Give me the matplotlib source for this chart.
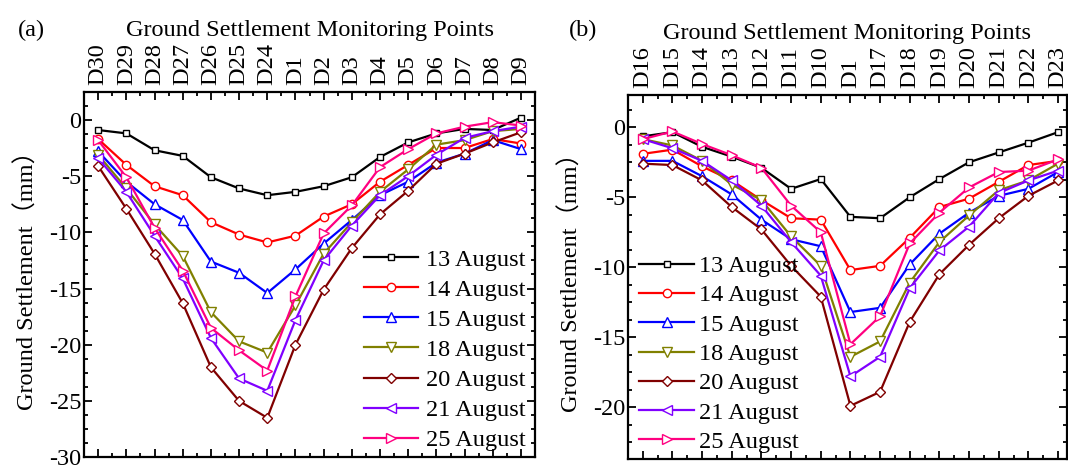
import matplotlib
matplotlib.use('Agg')
import matplotlib.pyplot as plt
from matplotlib.ticker import MultipleLocator, AutoMinorLocator

plt.rcParams['font.family'] = ['Liberation Serif', 'Noto Sans CJK SC', 'DejaVu Sans']

# legend names, one per survey date
dates = ['13 August', '14 August', '15 August', '18 August',
         '20 August', '21 August', '25 August']

# panel (a) monitoring points and settlements (mm)
points_a = ['D30', 'D29', 'D28', 'D27', 'D26', 'D25', 'D24', 'D1',
            'D2', 'D3', 'D4', 'D5', 'D6', 'D7', 'D8', 'D9']
aug13_a = [-0.9, -1.2, -2.7, -3.2, -5.1, -6.1, -6.7, -6.4, -5.9, -5.1, -3.3, -2.0, -1.2, -0.8, -0.9, 0.2]
aug14_a = [-1.7, -4.0, -5.9, -6.7, -9.1, -10.2, -10.9, -10.3, -8.6, -7.5, -5.5, -4.0, -2.5, -2.5, -1.7, -2.1]
aug15_a = [-2.8, -5.5, -7.5, -8.9, -12.6, -13.6, -15.4, -13.3, -11.0, -8.9, -6.7, -5.5, -3.8, -3.0, -1.8, -2.6]
aug18_a = [-3.1, -6.1, -9.3, -12.1, -17.1, -19.7, -20.7, -16.5, -11.9, -9.1, -6.4, -4.4, -2.2, -1.8, -1.0, -0.8]
aug20_a = [-4.1, -7.9, -11.9, -16.3, -22.0, -25.0, -26.5, -20.0, -15.1, -11.4, -8.4, -6.3, -3.9, -3.0, -2.0, -1.1]
aug21_a = [-3.4, -6.4, -10.3, -14.1, -19.4, -23.0, -24.1, -17.8, -12.5, -9.4, -6.7, -5.0, -3.1, -1.6, -1.0, -0.6]
aug25_a = [-1.8, -5.1, -9.6, -13.4, -18.5, -20.5, -22.3, -15.7, -10.1, -7.6, -4.2, -2.6, -1.2, -0.6, -0.2, -0.5]

# panel (b)
points_b = ['D16', 'D15', 'D14', 'D13', 'D12', 'D11', 'D10', 'D1',
            'D17', 'D18', 'D19', 'D20', 'D21', 'D22', 'D23']
aug13_b = [-0.65, -0.35, -1.4, -2.1, -2.9, -4.4, -3.7, -6.4, -6.5, -5.0, -3.7, -2.5, -1.8, -1.1, -0.35]
aug14_b = [-1.9, -1.6, -2.8, -3.8, -5.2, -6.5, -6.6, -10.2, -9.9, -7.9, -5.7, -5.1, -3.9, -2.7, -2.4]
aug15_b = [-2.4, -2.4, -3.5, -4.8, -6.6, -8.0, -8.5, -13.2, -12.9, -9.8, -7.6, -6.1, -4.9, -4.4, -3.2]
aug18_b = [-0.85, -1.3, -2.4, -4.1, -5.2, -7.8, -9.9, -16.4, -15.3, -11.1, -8.2, -6.3, -4.5, -3.8, -2.6]
aug20_b = [-2.6, -2.7, -3.8, -5.7, -7.3, -9.9, -12.1, -19.9, -18.9, -13.9, -10.5, -8.4, -6.5, -4.9, -3.8]
aug21_b = [-0.85, -1.5, -2.4, -3.8, -5.6, -8.2, -10.6, -17.8, -16.4, -11.5, -8.8, -7.1, -4.7, -3.8, -3.1]
aug25_b = [-0.85, -0.3, -1.2, -2.0, -2.9, -5.6, -7.5, -15.5, -13.5, -8.3, -6.1, -4.3, -3.2, -3.1, -2.3]

series_a = [aug13_a, aug14_a, aug15_a, aug18_a, aug20_a, aug21_a, aug25_a]
series_b = [aug13_b, aug14_b, aug15_b, aug18_b, aug20_b, aug21_b, aug25_b]

colors = ['#000000', '#FF0000', '#0000FF', '#808000', '#800000', '#8000FF', '#FF0080']
markers = ['s', 'o', '^', 'v', 'D', '<', '>']
msizes = [5, 6, 7, 7, 5, 7, 7]

FS = 17.5
fig = plt.figure(figsize=(10.68, 4.66), dpi=100)
ax_a = fig.add_axes([0.0787, 0.019, 0.4223, 0.784])
ax_b = fig.add_axes([0.588, 0.015, 0.411, 0.781])


def draw(ax, points, series, ylim, yticks):
    x = list(range(len(points)))
    for ys, c, m, ms, lab in zip(series, colors, markers, msizes, dates):
        ax.plot(x, ys, color=c, marker=m, markersize=ms, markerfacecolor='white',
                markeredgecolor=c, markeredgewidth=1.0, linewidth=1.6, label=lab)
    ax.set_xticks(x)
    ax.set_xticklabels(points, rotation=90, fontsize=FS)
    ax.xaxis.set_minor_locator(MultipleLocator(0.5))
    ax.set_yticks(yticks)
    ax.set_yticklabels([str(t) for t in yticks], fontsize=FS)
    ax.yaxis.set_minor_locator(AutoMinorLocator(4))
    ax.set_ylim(*ylim)
    ax.tick_params(which='both', direction='in', top=True, bottom=True,
                   left=True, right=True, labeltop=True, labelbottom=False,
                   width=1.3)
    ax.tick_params(axis='x', pad=5)
    ax.tick_params(axis='y', pad=2)
    ax.tick_params(which='major', length=6)
    ax.tick_params(which='minor', length=3)
    ax.xaxis.set_label_position('top')
    ax.set_xlabel('Ground Settlement Monitoring Points', fontsize=FS, labelpad=5)
    ax.set_ylabel('Ground Settlement（mm）', fontsize=FS, labelpad=7)
    for s in ax.spines.values():
        s.set_linewidth(1.6)


draw(ax_a, points_a, series_a, (-30, 2.5), [0, -5, -10, -15, -20, -25, -30])
ax_a.set_xlim(-0.5, 15.5)
ax_a.legend(loc='lower right', bbox_to_anchor=(1.0, -0.01), frameon=False,
            fontsize=FS, handlelength=2.25, handletextpad=0.3, labelspacing=0.33,
            borderaxespad=0)

draw(ax_b, points_b, series_b, (-23.7, 2.3), [0, -5, -10, -15, -20])
ax_b.set_xlim(-0.5, 14.3)
ax_b.legend(loc='lower left', bbox_to_anchor=(0.004, -0.01), frameon=False,
            fontsize=FS, handlelength=2.25, handletextpad=0.2, labelspacing=0.3,
            borderaxespad=0)

fig.text(0.029, 0.935, '(a)', fontsize=FS, ha='center', va='center')
fig.text(0.546, 0.935, '(b)', fontsize=FS, ha='center', va='center')

fig.savefig('out.png', dpi=100)
